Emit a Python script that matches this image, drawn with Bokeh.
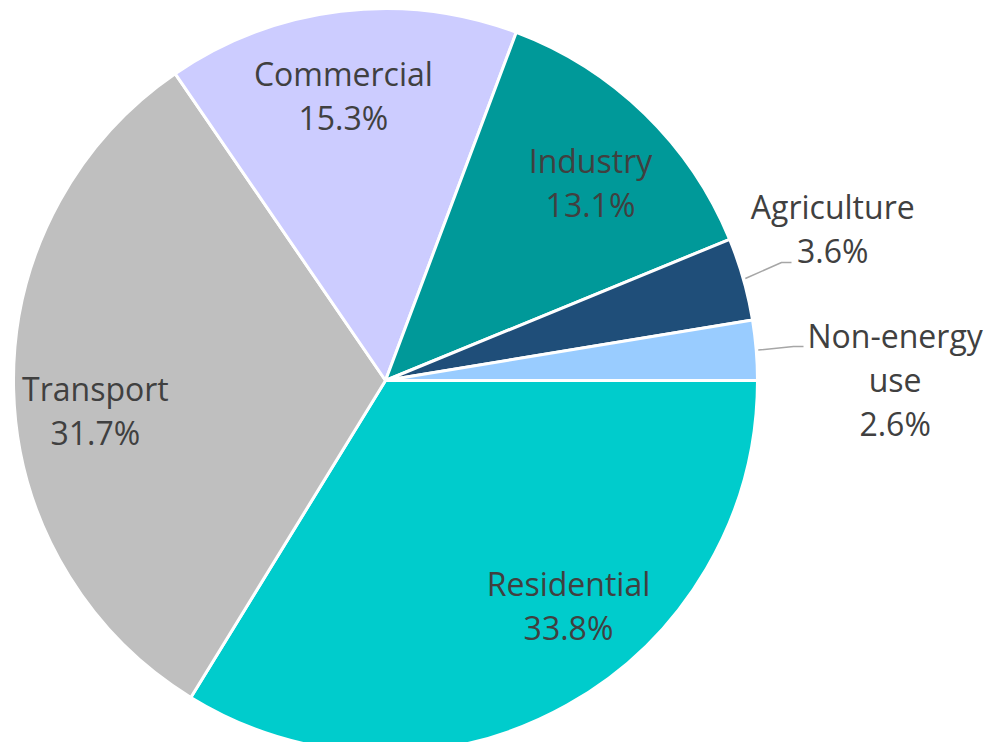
import math
from bokeh.plotting import figure
from bokeh.models import Range1d, ColumnDataSource
from bokeh.core.properties import value
from bokeh.embed import file_html
from bokeh.resources import INLINE

# ---- data ----
categories = ["Residential", "Transport", "Commercial", "Industry", "Agriculture", "Non-energy\nuse"]
shares = [33.8, 31.7, 15.3, 13.1, 3.6, 2.6]
share_labels = ["33.8%", "31.7%", "15.3%", "13.1%", "3.6%", "2.6%"]
colors = ["#00CCCC", "#BFBFBF", "#CCCCFF", "#009999", "#1F4E79", "#99CCFF"]

# ---- layout (pixel-like data units) ----
W, H = 989, 742
cx, cy, R = 385, 370, 372
# label placement: (radius factor, angle in degrees clockwise from east)
label_polar = [(0.78, 50.9), (0.784, 174.1), (0.775, 261.6), (0.766, 316.0), (1.27, -18.8), (1.370, -0.1)]
leader_end = {4: (791, 750 - 262), 5: (803, 750 - 346)}

total = sum(shares)
starts, ends, mids = [], [], []
c = 0.0
for s in shares:
    f = s / total
    starts.append(c)
    c += f
    ends.append(c)
    mids.append(c - f / 2)

p = figure(width=W, height=H, x_range=Range1d(0, W), y_range=Range1d(750 - H, 750),
           output_backend="svg", toolbar_location=None, min_border=0)
p.axis.visible = False
p.grid.visible = False
p.outline_line_color = None
p.background_fill_color = "white"

src = ColumnDataSource(dict(
    start=[-e * 2 * math.pi for e in ends],
    end=[-s * 2 * math.pi for s in starts],
    color=colors,
))
p.wedge(x=cx, y=cy, radius=R, start_angle="start", end_angle="end", fill_color="color",
        line_color="white", line_width=3, source=src)

lx, ly, txt = [], [], []
for i, cat in enumerate(categories):
    rf, ang = label_polar[i]
    a = math.radians(ang)
    lx.append(cx + rf * R * math.cos(a))
    ly.append(cy - rf * R * math.sin(a))
    txt.append(cat + "\n" + share_labels[i])

p.text(x=lx, y=ly, text=txt, text_font=value("Open Sans"), text_font_size="32px",
       text_color="#404040", text_align="center", text_baseline="middle", text_line_height=1.03)

for i, (ex, ey) in leader_end.items():
    a = -mids[i] * 2 * math.pi
    sx = cx + (R + 2) * math.cos(a)
    sy = cy + (R + 2) * math.sin(a)
    p.line(x=[sx, ex - 10, ex], y=[sy, ey, ey], line_color="#A6A6A6", line_width=1.5)

open("out.html", "w").write(file_html(p, INLINE))
